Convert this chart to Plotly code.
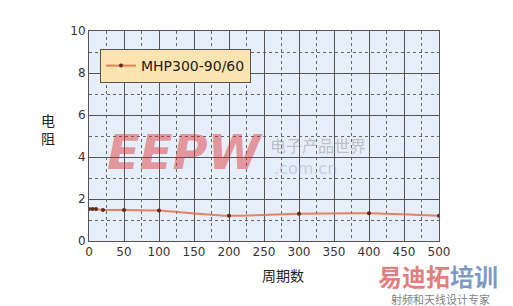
import plotly.graph_objects as go

cycles = [0, 5, 10, 20, 50, 100, 200, 300, 400, 500]
resistance = [1.52, 1.52, 1.52, 1.48, 1.48, 1.45, 1.2, 1.3, 1.32, 1.2]
series_name = "MHP300-90/60"
x_title = "周期数"
y_title = "电<br>阻"

fig = go.Figure()
fig.add_trace(go.Scatter(
    x=cycles, y=resistance, name=series_name, mode="lines+markers",
    line=dict(color="rgba(228,110,70,0.85)", width=2, shape="spline", smoothing=0.6),
    marker=dict(color="#5a2a1a", size=4),
))

axis_common = dict(
    showline=True, mirror=True, linecolor="#555555", linewidth=1,
    showgrid=True, gridcolor="#555555", gridwidth=1,
    ticks="", zeroline=False,
    tickfont=dict(family="DejaVu Sans", size=12, color="#333333"),
)
fig.update_xaxes(range=[0, 500], dtick=50, tick0=0,
                 minor=dict(dtick=25, showgrid=True, griddash="dot", gridcolor="#666666", gridwidth=1),
                 **axis_common)
fig.update_yaxes(range=[0, 10], dtick=2, tick0=0,
                 minor=dict(dtick=1, showgrid=True, griddash="dot", gridcolor="#666666", gridwidth=1),
                 **axis_common)

fig.add_annotation(text=x_title, xref="paper", yref="paper", x=(283 - 89) / 350, y=-(275 - 241) / 210,
                   showarrow=False, font=dict(family="Noto Sans CJK SC", size=14, color="#222222"),
                   xanchor="center", yanchor="middle")
fig.add_annotation(text=y_title, xref="paper", yref="paper", x=-(89 - 48) / 350, y=(241 - 129) / 210,
                   showarrow=False, font=dict(family="Noto Sans CJK SC", size=14, color="#222222"),
                   xanchor="center", yanchor="middle")

# watermarks
fig.add_annotation(text="<b><i>EEPW</i></b>", xref="paper", yref="paper", x=(185 - 89) / 350, y=(241 - 152) / 210,
                   showarrow=False, font=dict(family="DejaVu Sans", size=48, color="rgba(220,40,40,0.45)"),
                   xanchor="center", yanchor="middle")
fig.add_annotation(text="电子产品世界", xref="paper", yref="paper", x=(318 - 89) / 350, y=(241 - 145) / 210,
                   showarrow=False, font=dict(family="Noto Sans CJK SC", size=16, color="rgba(120,120,120,0.4)"),
                   xanchor="center", yanchor="middle")
fig.add_annotation(text=".com.cn", xref="paper", yref="paper", x=(305 - 89) / 350, y=(241 - 168) / 210,
                   showarrow=False, font=dict(family="DejaVu Sans", size=16, color="rgba(160,160,200,0.45)"),
                   xanchor="center", yanchor="middle")
fig.add_annotation(text="<b><span style='color:rgba(220,90,90,0.8)'>易迪拓</span><span style='color:rgba(80,120,180,0.75)'>培训</span></b>",
                   xref="paper", yref="paper", x=(438 - 89) / 350, y=-(275 - 241) / 210,
                   showarrow=False, font=dict(family="Noto Sans CJK SC", size=24),
                   xanchor="center", yanchor="middle")
fig.add_annotation(text="射频和天线设计专家", xref="paper", yref="paper", x=(440 - 89) / 350, y=-(299 - 241) / 210,
                   showarrow=False, font=dict(family="Noto Sans CJK SC", size=11, color="rgba(90,90,90,0.8)"),
                   xanchor="center", yanchor="middle")

fig.update_layout(
    width=513, height=306,
    margin=dict(l=89, r=74, t=31, b=65),
    paper_bgcolor="white", plot_bgcolor="#e6eef9",
    showlegend=True,
    legend=dict(x=(100 - 89) / 350, y=(241 - 49) / 210, xanchor="left", yanchor="top",
                bgcolor="#fbe4b0", bordercolor="#555555", borderwidth=1,
                font=dict(family="DejaVu Sans", size=14, color="#222222"),
                itemwidth=30, tracegroupgap=0),
)

fig.write_html("out.html")
